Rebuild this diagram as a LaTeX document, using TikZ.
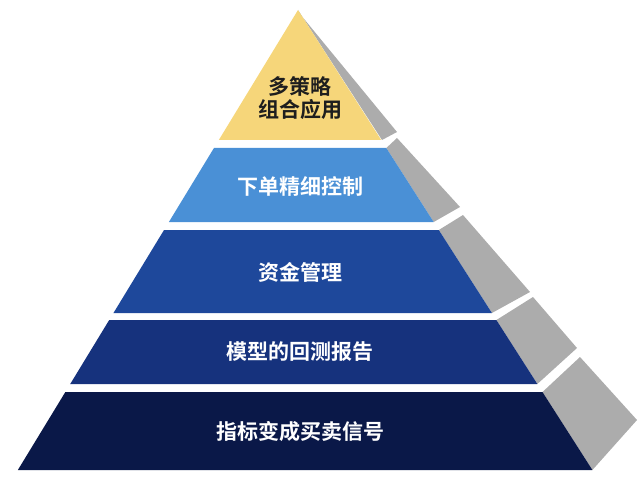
\documentclass[tikz,border=0pt]{standalone}
\usepackage{fontspec}
\newfontfamily\cjk{Noto Sans CJK SC Bold}
\begin{document}
\begin{tikzpicture}[x=1pt,y=-1pt,
 lab/.style={font=\cjk\fontsize{21}{25}\selectfont,text=white,align=center},
 side/.style={fill=gray!65,draw=none}]
\useasboundingbox (0,0) rectangle (640,492);
\def\L#1{298-0.609*(#1-10)}
\def\R#1{298+0.64*(#1-10)}
% grey sides
\fill[side] (300,14) -- (397,132) -- (382,140) -- (298,10) -- cycle;
\fill[side] ({\R{148}},148) -- (397,138) -- (460,207) -- ({\R{222}},222) -- cycle;
\fill[side] ({\R{230}},230) -- (463,215) -- (530,292) -- ({\R{313}},313) -- cycle;
\fill[side] ({\R{320}},320) -- (533,297) -- (577,348) -- ({\R{384}},384) -- cycle;
\fill[side] ({\R{392}},392) -- (580,357) -- (637,420) -- ({\R{470}},470) -- cycle;
% layers
\fill[fill={rgb,255:red,246;green,214;blue,122}] (298,10) -- ({\R{140}},140) -- ({\L{140}},140) -- cycle;
\fill[fill={rgb,255:red,74;green,144;blue,214}] ({\L{148}},148) -- ({\R{148}},148) -- ({\R{222}},222) -- ({\L{222}},222) -- cycle;
\fill[fill={rgb,255:red,30;green,72;blue,155}] ({\L{230}},230) -- ({\R{230}},230) -- ({\R{313}},313) -- ({\L{313}},313) -- cycle;
\fill[fill={rgb,255:red,22;green,50;blue,125}] ({\L{320}},320) -- ({\R{320}},320) -- ({\R{384}},384) -- ({\L{384}},384) -- cycle;
\fill[fill={rgb,255:red,10;green,24;blue,72}] ({\L{392}},392) -- ({\R{392}},392) -- ({\R{470}},470) -- ({\L{470}},470) -- cycle;
% labels
\node[lab,text={rgb,255:red,30;green,30;blue,30}] (t1) at (300,98) {多策略\\[-2pt]组合应用};
\node[lab] (t2) at (300,186) {下单精细控制};
\node[lab] (t3) at (300,272) {资金管理};
\node[lab] (t4) at (300,352) {模型的回测报告};
\node[lab] (t5) at (300,432) {指标变成买卖信号};
\end{tikzpicture}
\end{document}
